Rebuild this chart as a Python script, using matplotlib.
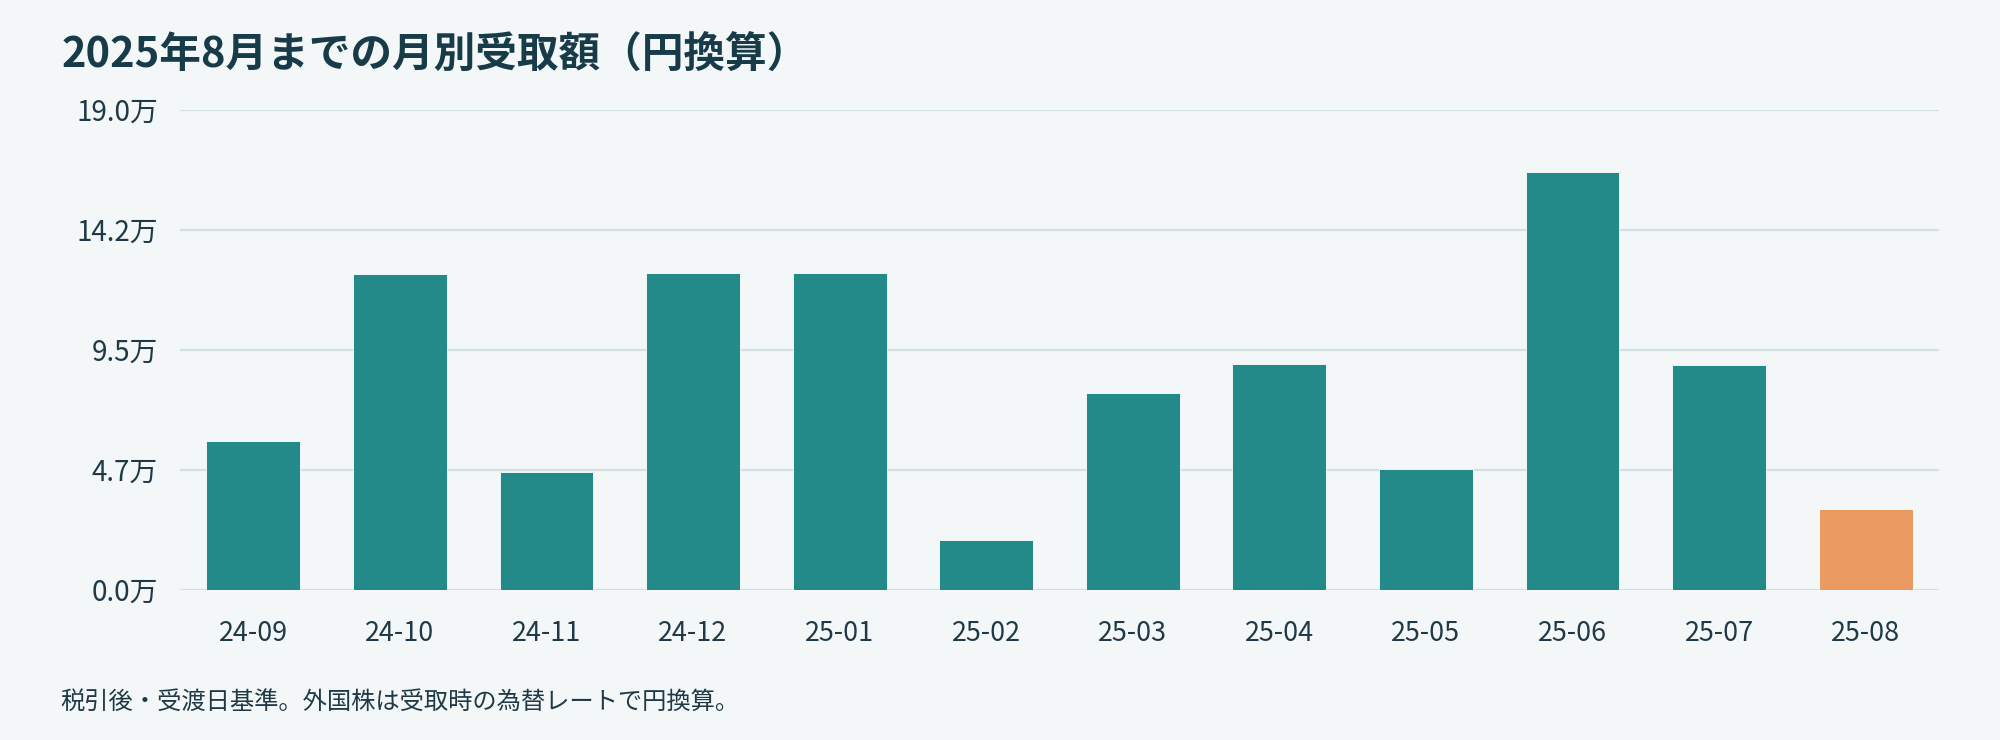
import matplotlib
matplotlib.use("Agg")
import matplotlib.pyplot as plt
from matplotlib.ticker import FixedLocator, FixedFormatter

plt.rcParams['font.family'] = ['Noto Sans CJK JP', 'DejaVu Sans']

# ---- data ----
months = ["24-09", "24-10", "24-11", "24-12", "25-01", "25-02",
          "25-03", "25-04", "25-05", "25-06", "25-07", "25-08"]
amounts_man = [5.90, 12.48, 4.66, 12.53, 12.55, 1.95,
               7.79, 8.92, 4.77, 16.52, 8.88, 3.19]   # 万円
highlight_index = 11
ytick_values = [0.0, 4.75, 9.5, 14.25, 19.0]
ytick_labels = ["0.0万", "4.7万", "9.5万", "14.2万", "19.0万"]
title = "2025年8月までの月別受取額（円換算）"
footnote = "税引後・受渡日基準。外国株は受取時の為替レートで円換算。"

# ---- style ----
BG = "#f3f7f8"
TEAL = "#238a89"
ORANGE = "#eb9a62"
GRID = "#d3e0e3"
TITLE_C = "#173b48"
TEXT_C = "#1f3a46"

fig = plt.figure(figsize=(20, 7.4), dpi=100, facecolor=BG)
ax = fig.add_axes([0.09, 0.2031, 0.8795, 0.6487])
ax.set_facecolor(BG)

x = list(range(len(months)))
colors = [ORANGE if i == highlight_index else TEAL for i in x]
ax.bar(x, amounts_man, width=0.64, color=colors, zorder=3,
       edgecolor="#ffffff", linewidth=0.6)

ax.set_xlim(-0.5, len(months) - 0.5)
ax.set_ylim(0, 19.0)
ax.yaxis.set_major_locator(FixedLocator(ytick_values))
ax.yaxis.set_major_formatter(FixedFormatter(ytick_labels))
ax.set_xticks(x)
ax.set_xticklabels(months)

ax.grid(axis="y", color=GRID, linewidth=1.6, zorder=0)
ax.grid(axis="x", visible=False)
for s in ax.spines.values():
    s.set_visible(False)
ax.tick_params(axis="both", length=0, colors=TEXT_C)
ax.tick_params(axis="y", pad=16, labelsize=20)
ax.tick_params(axis="x", pad=22, labelsize=19.4)

fig.text(0.031, 0.9099, title, fontsize=30, fontweight="bold",
         color=TITLE_C, va="baseline", ha="left")
fig.text(0.030, 0.0514, footnote, fontsize=17.5, color=TEXT_C,
         va="center", ha="left")

fig.savefig("out.png", dpi=100, facecolor=BG)
